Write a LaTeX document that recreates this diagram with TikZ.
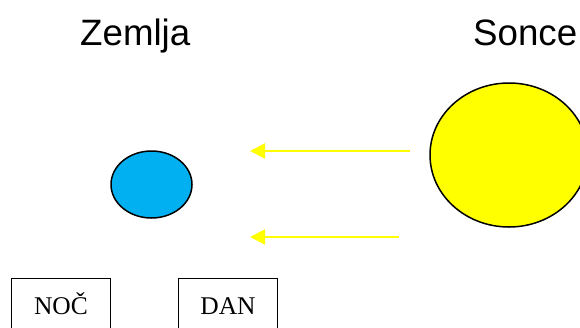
\documentclass[tikz,border=0pt]{standalone}
\usepackage{fontspec}
\setmainfont{Liberation Serif}
\newfontfamily\arialf{Liberation Sans}
\usetikzlibrary{shapes.geometric,arrows.meta}
\definecolor{earthblue}{HTML}{00B0F0}
\definecolor{sunyellow}{HTML}{FFFF00}
\tikzset{
  title/.style={font=\arialf\fontsize{36.7}{40}\selectfont, inner sep=0pt, anchor=base west},
  labelbox/.style={draw=black, line width=1.3pt, anchor=north, minimum width=99pt,
    inner xsep=0pt, inner ysep=0pt, text height=36pt, text depth=40pt,
    font=\fontsize{25.5}{28}\selectfont},
  body/.style={ellipse, draw=black, line width=1.5pt, inner sep=0pt},
  ray/.style={draw=sunyellow, line width=2pt, -{Triangle[length=15pt,width=15pt]}}
}
\begin{document}
\begin{tikzpicture}[x=1pt,y=-1pt]
\clip (0,0) rectangle (580,327);
\fill[white] (0,0) rectangle (580,327);
\node[title] (zemlja) at (80,45) {Zemlja};
\node[title] (sonce) at (473,45) {Sonce};
\node[body, fill=earthblue, minimum width=81pt, minimum height=67pt] (earth) at (151.5,184.5) {};
\node[body, fill=sunyellow, minimum width=158pt, minimum height=144pt] (sun) at (509,155) {};
\coordinate (r1s) at (410,151);
\coordinate (r1e) at (250,151);
\coordinate (r2s) at (399,237);
\coordinate (r2e) at (250,237);
\draw[ray] (r1s) -- (r1e);
\draw[ray] (r2s) -- (r2e);
\node[labelbox] (noc) at (61,278) {NOČ};
\node[labelbox] (dan) at (228,278) {DAN};
\end{tikzpicture}
\end{document}
